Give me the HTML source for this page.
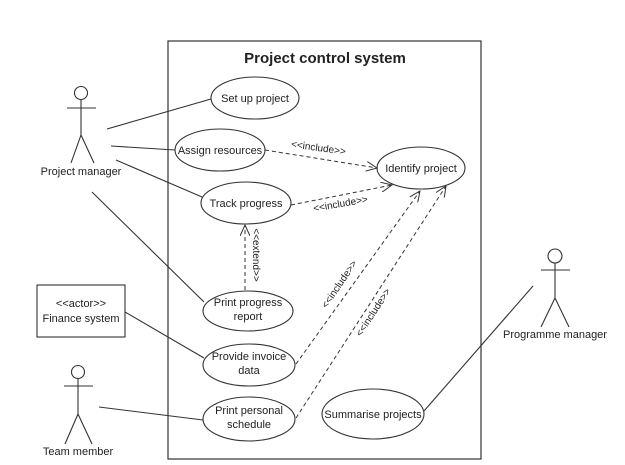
<!DOCTYPE html>
<html><head><meta charset="utf-8"><style>
html,body{margin:0;padding:0;background:#fff;}
svg{display:block;}
text{font-family:"Liberation Sans",sans-serif;fill:#222;}
</style></head><body>
<svg width="625" height="465" viewBox="0 0 625 465" xmlns="http://www.w3.org/2000/svg">
<defs>
<marker id="a" markerWidth="12" markerHeight="10" refX="11" refY="5" orient="auto" markerUnits="userSpaceOnUse">
<path d="M0,0 L11,5 L0,10" fill="none" stroke="#333" stroke-width="1"/>
</marker>
</defs>
<rect x="168" y="41" width="313" height="418" fill="none" stroke="#333" stroke-width="1.2"/>
<text x="325" y="63" font-size="15" font-weight="bold" text-anchor="middle">Project control system</text>

<g fill="none" stroke="#333" stroke-width="1.1">
<ellipse cx="255" cy="98" rx="44" ry="21"/>
<ellipse cx="220" cy="150" rx="45" ry="21"/>
<ellipse cx="421" cy="168" rx="44" ry="21"/>
<ellipse cx="246" cy="203" rx="45" ry="21"/>
<ellipse cx="248" cy="311" rx="45" ry="20"/>
<ellipse cx="249" cy="365" rx="46" ry="21"/>
<ellipse cx="249" cy="419" rx="46" ry="22"/>
<ellipse cx="373" cy="414" rx="51" ry="25"/>
</g>
<g font-size="11" text-anchor="middle">
<text x="255" y="102">Set up project</text>
<text x="220" y="154">Assign resources</text>
<text x="421" y="172">Identify project</text>
<text x="246" y="207">Track progress</text>
<text x="248" y="306">Print progress</text>
<text x="248" y="320">report</text>
<text x="249" y="360">Provide invoice</text>
<text x="249" y="374">data</text>
<text x="249" y="414">Print personal</text>
<text x="249" y="428">schedule</text>
<text x="373" y="418">Summarise projects</text>
</g>

<g fill="none" stroke="#333" stroke-width="1.1">
<circle cx="81" cy="93" r="6.5"/>
<line x1="67" y1="108" x2="96" y2="108"/><line x1="81" y1="99.5" x2="81" y2="135"/>
<line x1="81" y1="135" x2="71" y2="163"/><line x1="81" y1="135" x2="94" y2="163"/>
<circle cx="78" cy="372" r="6.5"/>
<line x1="64" y1="386" x2="93" y2="386"/><line x1="78" y1="378.5" x2="78" y2="414"/>
<line x1="78" y1="414" x2="65" y2="444"/><line x1="78" y1="414" x2="92" y2="444"/>
<circle cx="555" cy="256" r="7"/>
<line x1="541" y1="270" x2="570" y2="270"/><line x1="555" y1="263" x2="555" y2="298"/>
<line x1="555" y1="298" x2="541" y2="327"/><line x1="555" y1="298" x2="569" y2="327"/>
<rect x="37" y="285" width="88" height="52"/>
<line x1="107" y1="129" x2="211" y2="99"/>
<line x1="111" y1="146" x2="175" y2="150"/>
<line x1="116" y1="160" x2="202" y2="197"/>
<line x1="92" y1="192" x2="204" y2="302"/>
<line x1="125" y1="312" x2="204" y2="358"/>
<line x1="99" y1="407" x2="203" y2="420"/>
<line x1="533" y1="286" x2="424" y2="411"/>
</g>
<g font-size="11" text-anchor="middle">
<text x="81" y="175">Project manager</text>
<text x="78" y="455">Team member</text>
<text x="555" y="338">Programme manager</text>
<text x="81" y="307">&lt;&lt;actor&gt;&gt;</text>
<text x="81" y="322">Finance system</text>
</g>

<g fill="none" stroke="#333" stroke-width="1" stroke-dasharray="4,3" marker-end="url(#a)">
<line x1="265" y1="150" x2="377" y2="168"/>
<line x1="291" y1="205" x2="392" y2="185"/>
<line x1="245" y1="290" x2="245" y2="225"/>
<line x1="296" y1="364" x2="420" y2="191"/>
<line x1="296" y1="418" x2="446" y2="186"/>
</g>
<g font-size="10" text-anchor="middle">
<text transform="translate(318,151) rotate(8)">&lt;&lt;include&gt;&gt;</text>
<text transform="translate(341,207) rotate(-10)">&lt;&lt;include&gt;&gt;</text>
<text transform="translate(253,255) rotate(90)">&lt;&lt;extend&gt;&gt;</text>
<text transform="translate(342,286) rotate(-56)">&lt;&lt;include&gt;&gt;</text>
<text transform="translate(376,314) rotate(-57)">&lt;&lt;include&gt;&gt;</text>
</g>
</svg>
</body></html>
